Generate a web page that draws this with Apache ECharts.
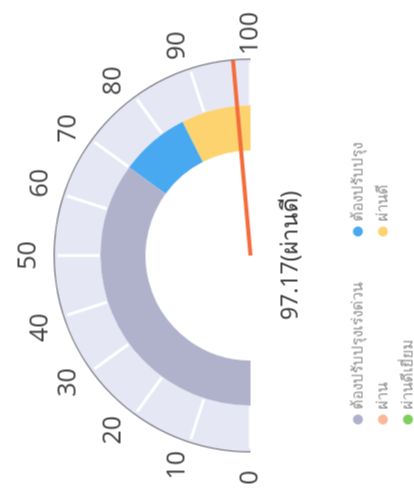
<!DOCTYPE html>
<html>
<head>
<meta charset="utf-8">
<script src="https://cdn.jsdelivr.net/npm/echarts@6/dist/echarts.min.js"></script>
<style>
html, body { margin: 0; padding: 0; background: #fff; overflow: hidden; }
/* กราฟวาดแนวนอนแล้วหมุนทวนเข็ม 90 องศาเหมือนภาพต้นฉบับ */
#main { position: absolute; left: -38.5px; top: 38.5px; width: 491px; height: 414px; transform: rotate(-90deg); }
</style>
</head>
<body>
<div id="main"></div>
<script>
// ข้อมูล
var score = 97.17;
var scoreLevel = 'ผ่านดี';
var tickValues = [0, 10, 20, 30, 40, 50, 60, 70, 80, 90, 100];
var levelNames = ['ต้องปรับปรุงเร่งด่วน', 'ต้องปรับปรุง', 'ผ่าน', 'ผ่านดี', 'ผ่านดีเยี่ยม'];
var levelColors = ['#aeb0cc', '#48a9f1', '#f8b998', '#fdd36f', '#7fcf5c'];
var bandEnds = [70, 85, 100];
var bandColors = ['#b0b2cc', '#48a9f1', '#fdd36f'];

var gMin = tickValues[0], gMax = tickValues[tickValues.length - 1];
var cx = 236, cy = 250, R = 196;
var labelR = 222, labelFont = 25, labelFamily = 'Open Sans';

function gauge(extra) {
	var s = {
		type: 'gauge', center: [cx, cy], radius: R,
		startAngle: 180, endAngle: 0, min: gMin, max: gMax,
		splitNumber: tickValues.length - 1,
		axisLine: { show: false },
		axisTick: { show: false },
		splitLine: { show: false, length: 0, distance: 0 },
		axisLabel: { show: false },
		pointer: { show: false },
		anchor: { show: false },
		title: { show: false },
		detail: { show: false },
		silent: true,
		animation: false,
		data: []
	};
	for (var k in extra) s[k] = extra[k];
	return s;
}

var series = [];
// แถบนอกสีอ่อน + เส้นแบ่งสีขาว
series.push(gauge({
	axisLine: { show: true, lineStyle: { width: 46, color: [[1, '#e5e7f4']] } },
	splitLine: { show: true, distance: -43, length: 42, lineStyle: { color: '#fff', width: 3 } }
}));
// แถบสีระดับผล
series.push(gauge({
	radius: 150,
	axisLine: { show: true, lineStyle: { width: 45, color: bandEnds.map(function (v, i) {
		return [(v - gMin) / (gMax - gMin), bandColors[i]];
	}) } }
}));
// เส้นขอบนอก
series.push(gauge({
	radius: 197,
	axisLine: { show: true, lineStyle: { width: 1.2, color: [[1, '#74747e']] } }
}));

// ตัวเลขสเกล ให้กึ่งกลางตัวอักษรอยู่บนวงรัศมี labelR
var ctx = document.createElement('canvas').getContext('2d');
ctx.font = labelFont + 'px "' + labelFamily + '"';
tickValues.forEach(function (t, i) {
	var ang = Math.PI - i / (tickValues.length - 1) * Math.PI;
	var ux = Math.cos(ang), uy = -Math.sin(ang);
	var w = ctx.measureText(String(t)).width;
	var shift = 0;
	if (Math.abs(ux) > 0.4) shift += w / 2 * Math.abs(ux);
	if (Math.abs(uy) > 0.8) shift += labelFont / 2 * Math.abs(uy);
	series.push(gauge({
		axisLabel: {
			show: true, distance: R - (labelR + shift),
			fontSize: labelFont, fontFamily: labelFamily, color: '#404040',
			formatter: function (v) { return Math.round(v) === t ? String(t) : ''; }
		}
	}));
});

// เข็มและค่าคะแนน
series.push(gauge({
	pointer: { show: true, icon: 'rect', length: '100%', width: 4, itemStyle: { color: '#f36c3c' } },
	detail: {
		show: true, offsetCenter: [0, 40], fontSize: 23, color: '#333',
		fontFamily: 'Open Sans', fontWeight: 'normal',
		formatter: function (v) { return v.toFixed(2) + '(' + scoreLevel + ')'; }
	},
	data: [{ value: score }]
}));

// ชุดข้อมูลว่างสำหรับคำอธิบายสัญลักษณ์
series.push({
	type: 'pie', radius: [0, 0], center: [cx, cy], silent: true,
	stillShowZeroSum: false, label: { show: false }, labelLine: { show: false },
	data: levelNames.map(function (n, i) { return { name: n, value: 0, itemStyle: { color: levelColors[i] } }; })
});

var myChart = echarts.init(document.getElementById('main'));
myChart.setOption({
	animation: false,
	legend: {
		left: 62, top: 345, width: 380,
		orient: 'horizontal', icon: 'circle',
		itemWidth: 10, itemHeight: 10, itemGap: 10,
		selectedMode: false,
		textStyle: { fontSize: 15, color: '#8c8c8c', width: 163, lineHeight: 13 },
		data: levelNames
	},
	series: series
});
</script>
</body>
</html>
